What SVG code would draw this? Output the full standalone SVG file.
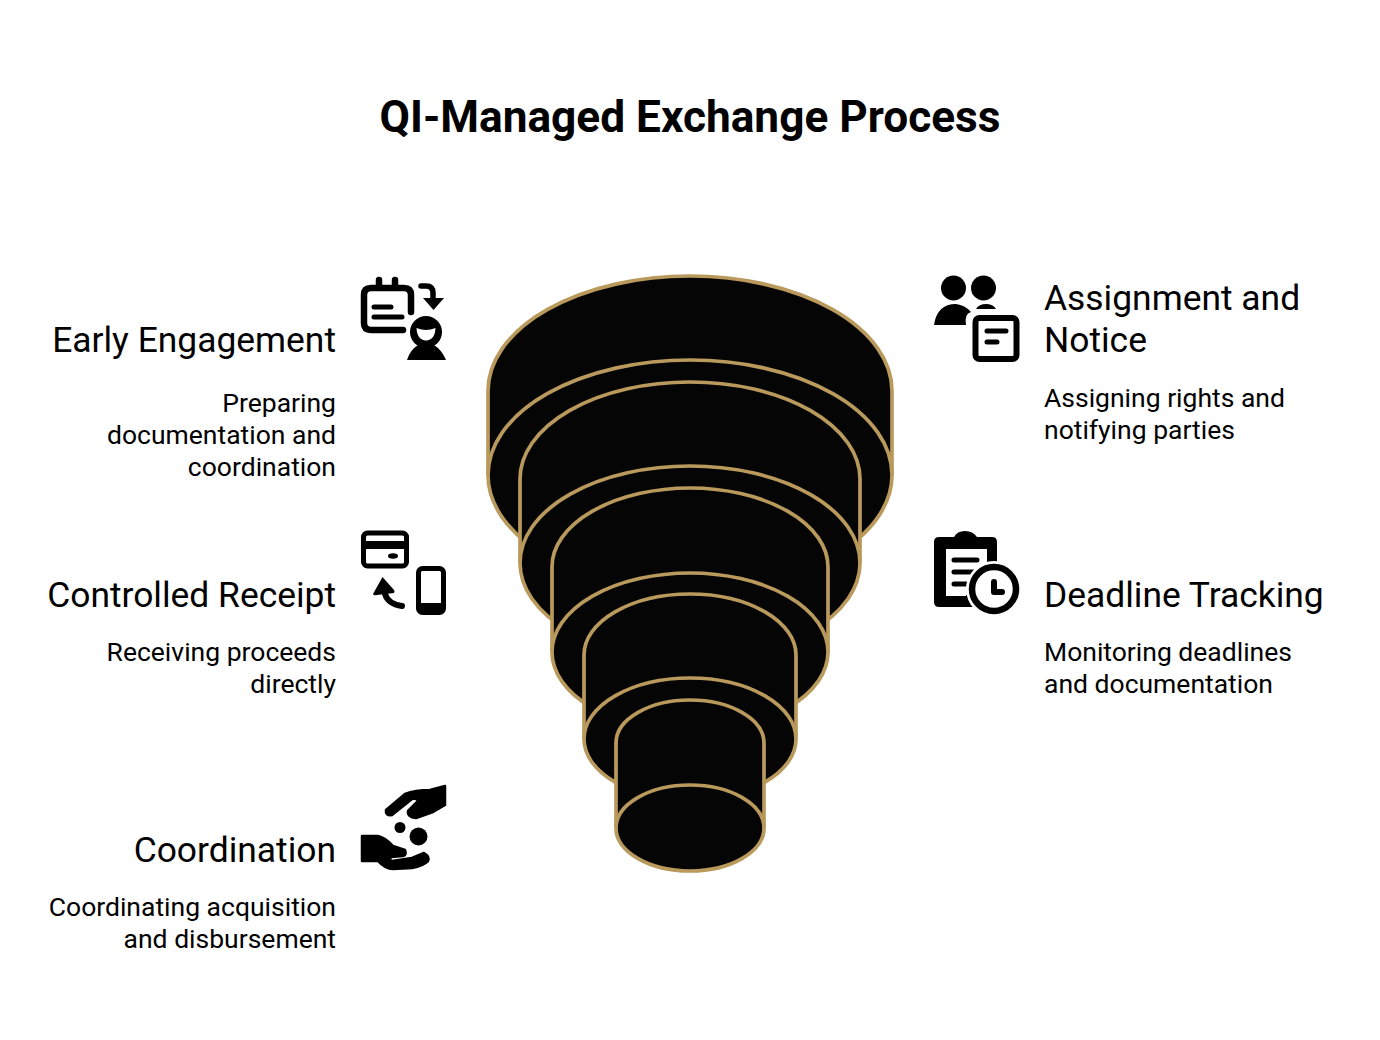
<svg xmlns="http://www.w3.org/2000/svg" width="1380" height="1040" viewBox="0 0 1380 1040">
<style>
text{font-family:Roboto,"Liberation Sans",sans-serif;fill:#000}
.t{font-size:44.200px;font-weight:700;text-anchor:middle}
.h{font-size:35.400px}
.d{font-size:26.500px}
.e{text-anchor:end}
.c{fill:#050505;stroke:#b99a5c;stroke-width:3.700}
.l{fill:none;stroke:#000;stroke-linecap:round;stroke-linejoin:round}
.f{fill:#000}
.w{fill:#fff}
</style>
<rect width="1380" height="1040" fill="#fff"/>
<text class="t" x="690" y="132" id="title">QI-Managed Exchange Process</text>
<g id="funnel">
<g id="tier1"><path class="c" d="M488 391A202 115 0 0 1 892 391V475A202 115 0 0 1 488 475Z"/><path class="c" d="M488 475A202 115 0 0 1 892 475"/></g>
<g id="tier2"><path class="c" d="M520 479A170 97 0 0 1 860 479V563A170 97 0 0 1 520 563Z"/><path class="c" d="M520 563A170 97 0 0 1 860 563"/></g>
<g id="tier3"><path class="c" d="M552 567A138 79 0 0 1 828 567V652A138 79 0 0 1 552 652Z"/><path class="c" d="M552 652A138 79 0 0 1 828 652"/></g>
<g id="tier4"><path class="c" d="M584 655A106 61 0 0 1 796 655V739A106 61 0 0 1 584 739Z"/><path class="c" d="M584 739A106 61 0 0 1 796 739"/></g>
<g id="tier5"><path class="c" d="M616 743A74 43 0 0 1 764 743V828A74 43 0 0 1 616 828Z"/><path class="c" d="M616 828A74 43 0 0 1 764 828"/></g>
</g>
<g id="early-engagement">
<text class="h e" x="336" y="351.500">Early Engagement</text>
<text class="d e" x="336" y="412">Preparing</text>
<text class="d e" x="336" y="444">documentation and</text>
<text class="d e" x="336" y="476">coordination</text>
<path class="l" stroke-width="6.500" d="M403 330H371Q364 330 364 323V295Q364 288 371 288H404Q411 288 411 295V312M379 280V288M395 280V288"/>
<path class="l" stroke-width="5" d="M374 307H391M374 317H402"/>
<path class="l" stroke-width="5.500" d="M421 286H426Q433 286 433 293V299"/>
<path class="f" d="M423 298H444L433.500 310Z"/>
<circle class="f" cx="426" cy="332" r="16"/>
<path class="w" d="M416.500 328Q426 332 435.500 328Q435 340 426 340.500Q417 340 416.500 328Z"/>
<path class="f" d="M407 360Q410 350 418 345Q426 349 434 345Q442 350 446 360Z"/>
</g>
<g id="controlled-receipt">
<text class="h e" x="336" y="606.500">Controlled Receipt</text>
<text class="d e" x="336" y="661">Receiving proceeds</text>
<text class="d e" x="336" y="693">directly</text>
<rect x="363.500" y="533" width="43" height="33" rx="4" fill="none" stroke="#000" stroke-width="5"/>
<rect x="362" y="541" width="45" height="8" class="f"/>
<ellipse class="f" cx="393" cy="556" rx="5" ry="2.800"/>
<rect x="418.500" y="568.500" width="25" height="44" rx="4" fill="none" stroke="#000" stroke-width="5"/>
<rect x="418" y="603" width="26" height="9" class="f"/>
<path class="f" d="M382.500 577L373 594Q374 596 377 595L394 593Q395 591 394 590Z"/>
<path class="l" stroke-width="6" d="M385 594Q388 604 402 606"/>
</g>
<g id="coordination">
<text class="h e" x="336" y="861.500">Coordination</text>
<text class="d e" x="336" y="916">Coordinating acquisition</text>
<text class="d e" x="336" y="948">and disbursement</text>
<path class="f" stroke="#000" stroke-width="2.500" stroke-linejoin="round" d="M386 810L405 794Q415 790 430 790L445 786V805L433 812L416 818Q407 817 408 811L418 801Q417 798 412 799L392 815Q385 816 386 810Z"/>
<circle class="f" cx="400" cy="827.500" r="5.500"/>
<circle class="f" cx="418.500" cy="836.500" r="9"/>
<path class="f" stroke="#000" stroke-width="2.500" stroke-linejoin="round" d="M362 836H378Q386 838 393 846L405 850Q407 855 403 856L391 857Q389 860 392 861L412 858L424 853Q430 856 428 861Q423 866 412 868L393 869Q385 869 378 861H362Z"/>
</g>
<g id="assignment-notice">
<text class="h" x="1044" y="309.500">Assignment and</text>
<text class="h" x="1044" y="352">Notice</text>
<text class="d" x="1044" y="407">Assigning rights and</text>
<text class="d" x="1044" y="439">notifying parties</text>
<circle class="f" cx="953.500" cy="288" r="12.500"/>
<circle class="f" cx="983.500" cy="288" r="12.500"/>
<path class="f" d="M934 325Q937 304 956 304Q965 305 971 312Q964 314 966 325Z"/>
<path class="f" d="M976 309Q979 304 986 304Q993 304 996 309Z"/>
<rect x="975.500" y="318" width="41" height="41" rx="4" fill="none" stroke="#000" stroke-width="6"/>
<path class="l" stroke-width="5" d="M987 331H1006M987 342H997"/>
</g>
<g id="deadline-tracking">
<text class="h" x="1044" y="606.500">Deadline Tracking</text>
<text class="d" x="1044" y="661">Monitoring deadlines</text>
<text class="d" x="1044" y="693">and documentation</text>
<path class="f" d="M939 537H954Q957 531 965 531Q973 531 977 537H992Q997 537 997 542V590H975V607H939Q934 607 934 602V542Q934 537 939 537Z"/>
<rect class="w" x="946" y="549" width="41" height="46"/>
<rect class="w" x="946" y="590" width="20" height="6"/>
<path class="l" stroke-width="5" d="M954 560H977M954 572H974M954 584H966"/>
<circle cx="994" cy="589" r="28" class="w"/>
<circle cx="994" cy="589" r="22" fill="#fff" stroke="#000" stroke-width="6.500"/>
<path class="l" stroke-width="6" d="M994 582V592H1002"/>
</g>
</svg>
